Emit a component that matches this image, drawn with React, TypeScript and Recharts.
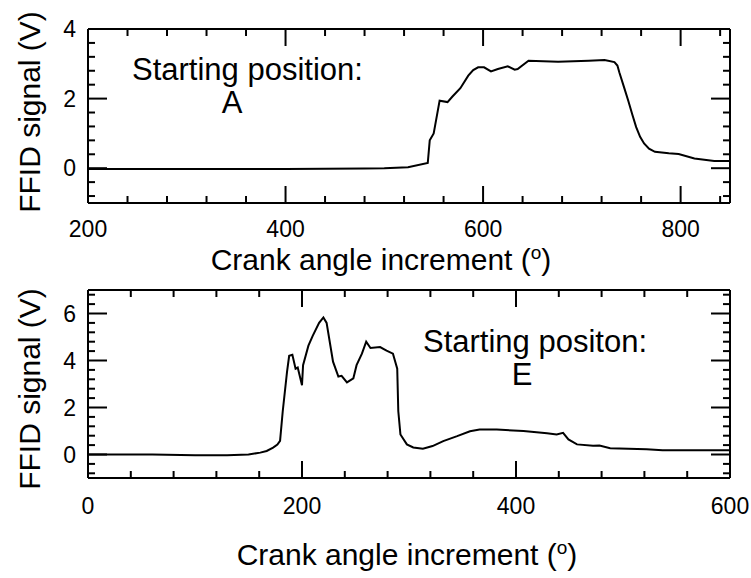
import React from "react";
import { LineChart, Line, XAxis, YAxis } from "recharts";

// ---- Top panel (starting position A) ----
const topAngle = [200, 300, 400, 480, 500, 524, 544, 546, 550, 556, 564, 569, 577, 585, 590, 595, 601, 608, 615, 625, 632, 635, 646, 676, 707, 723, 733, 736, 738, 743, 747, 751, 755, 759, 763, 768, 774, 788, 798, 814, 834, 850];
const topSignal = [-0.02, -0.02, -0.02, -0.01, 0.0, 0.03, 0.15, 0.8, 1.0, 1.94, 1.9, 2.06, 2.3, 2.66, 2.82, 2.9, 2.9, 2.78, 2.85, 2.93, 2.83, 2.85, 3.09, 3.06, 3.09, 3.11, 3.05, 2.95, 2.75, 2.3, 1.94, 1.55, 1.18, 0.9, 0.71, 0.56, 0.47, 0.43, 0.41, 0.28, 0.21, 0.21];

// ---- Bottom panel (starting position E) ----
const botAngle = [0, 60, 100, 130, 150, 161, 167, 173, 177, 179.5, 182, 186, 188, 191, 194, 196, 200, 201, 206, 210, 216, 220, 223, 229, 234, 237, 242, 248, 251, 256, 260, 264, 273, 279, 285, 289, 290, 292, 298, 304, 313, 322, 332, 345, 357, 366, 382, 407, 429, 438, 444, 449, 457, 472, 478, 488, 522, 537, 593, 600];
const botSignal = [0.0, 0.0, -0.03, -0.03, 0.0, 0.08, 0.15, 0.29, 0.42, 0.58, 1.84, 3.52, 4.2, 4.24, 3.65, 3.7, 2.95, 3.8, 4.63, 5.05, 5.6, 5.83, 5.6, 3.95, 3.32, 3.35, 3.07, 3.24, 3.8, 4.29, 4.8, 4.53, 4.57, 4.42, 4.29, 3.65, 1.84, 0.85, 0.43, 0.3, 0.25, 0.36, 0.57, 0.78, 0.99, 1.06, 1.06, 1.0, 0.9, 0.85, 0.92, 0.64, 0.43, 0.37, 0.38, 0.27, 0.22, 0.18, 0.18, 0.18];

// ---- Ticks ----
const topXTicks = [200, 240, 280, 320, 360, 400, 440, 480, 520, 560, 600, 640, 680, 720, 760, 800, 840];
const topYTicks = [-0.8, -0.4, 0, 0.4, 0.8, 1.2, 1.6, 2, 2.4, 2.8, 3.2, 3.6, 4];
const botXTicks = [0, 40, 80, 120, 160, 200, 240, 280, 320, 360, 400, 440, 480, 520, 560, 600];
const botYTicks = [-0.8, -0.4, 0, 0.4, 0.8, 1.2, 1.6, 2, 2.4, 2.8, 3.2, 3.6, 4, 4.4, 4.8, 5.2, 5.6, 6, 6.4, 6.8];

const FONT = "'Liberation Sans', Arial, Helvetica, sans-serif";

const isMajor = (v: number, step: number) => {
  const r = Math.abs(v / step - Math.round(v / step));
  return r < 1e-6;
};

const makeTick = (side: "bottom" | "top" | "left" | "right", step: number, labels: boolean, labelGap = 34) =>
  (props: any) => {
    const { x, y, payload } = props;
    const v = payload.value;
    const major = isMajor(v, step);
    const len = major ? (side === "left" || side === "right" ? 19 : 17) : 7;
    let x2 = x, y2 = y;
    if (side === "bottom") y2 = y - len;
    if (side === "top") y2 = y + len;
    if (side === "left") x2 = x + len;
    if (side === "right") x2 = x - len;
    return (
      <g>
        <line x1={x} y1={y} x2={x2} y2={y2} stroke="#000" strokeWidth={2} />
        {labels && major && side === "bottom" && (
          <text x={x} y={y + labelGap} textAnchor="middle" fontSize={23} fontFamily={FONT} fill="#000">
            {v}
          </text>
        )}
        {labels && major && side === "left" && (
          <text x={x - 12} y={y} dy="0.36em" textAnchor="end" fontSize={23} fontFamily={FONT} fill="#000">
            {v}
          </text>
        )}
      </g>
    );
  };

const axisLine = { stroke: "#000", strokeWidth: 2 };

const Degree = () => (
  <>
    <tspan>(</tspan>
    <tspan fontSize={19} dy={-11}>o</tspan>
    <tspan dy={11}>)</tspan>
  </>
);

const topData = topAngle.map((a, i) => ({ a, s: topSignal[i] }));
const botData = botAngle.map((a, i) => ({ a, s: botSignal[i] }));

export default function App() {
  return (
    <div style={{ position: "absolute", left: 0, top: 0, width: 751, height: 578, background: "#fff" }}>
      <div style={{ position: "absolute", left: 0, top: 0 }}>
        <LineChart width={751} height={280} data={topData} margin={{ top: 28, left: 87, right: 20, bottom: 76 }}>
          <XAxis dataKey="a" type="number" domain={[200, 850]} allowDataOverflow ticks={topXTicks} interval={0}
            height={1} tickSize={0} tickMargin={0} tickLine={false} axisLine={axisLine}
            tick={makeTick("bottom", 200, true, 34)} />
          <XAxis xAxisId="t" orientation="top" dataKey="a" type="number" domain={[200, 850]} allowDataOverflow ticks={topXTicks} interval={0}
            height={1} tickSize={0} tickMargin={0} tickLine={false} axisLine={axisLine}
            tick={makeTick("top", 200, false)} />
          <YAxis type="number" domain={[-1, 4]} allowDataOverflow ticks={topYTicks} interval={0}
            width={1} tickSize={0} tickMargin={0} tickLine={false} axisLine={axisLine}
            tick={makeTick("left", 2, true)} />
          <YAxis yAxisId="r" orientation="right" type="number" domain={[-1, 4]} allowDataOverflow ticks={topYTicks} interval={0}
            width={1} tickSize={0} tickMargin={0} tickLine={false} axisLine={axisLine}
            tick={makeTick("right", 2, false)} />
          <Line dataKey="s" type="linear" stroke="#000" strokeWidth={2} dot={false} isAnimationActive={false} />
          <text x={132} y={80} fontSize={31} fontFamily={FONT} fill="#000">Starting position:</text>
          <text x={232} y={113} textAnchor="middle" fontSize={31} fontFamily={FONT} fill="#000">A</text>
          <text x={381} y={270} textAnchor="middle" fontSize={30} fontFamily={FONT} fill="#000">
            Crank angle increment <Degree />
          </text>
          <text x={40} y={112} textAnchor="middle" fontSize={30} fontFamily={FONT} fill="#000" transform="rotate(-90 40 112)">
            FFID signal (V)
          </text>
        </LineChart>
      </div>
      <div style={{ position: "absolute", left: 0, top: 280 }}>
        <LineChart width={751} height={298} data={botData} margin={{ top: 9, left: 87, right: 20, bottom: 99 }}>
          <XAxis dataKey="a" type="number" domain={[0, 600]} allowDataOverflow ticks={botXTicks} interval={0}
            height={1} tickSize={0} tickMargin={0} tickLine={false} axisLine={axisLine}
            tick={makeTick("bottom", 200, true, 36)} />
          <XAxis xAxisId="t" orientation="top" dataKey="a" type="number" domain={[0, 600]} allowDataOverflow ticks={botXTicks} interval={0}
            height={1} tickSize={0} tickMargin={0} tickLine={false} axisLine={axisLine}
            tick={makeTick("top", 200, false)} />
          <YAxis type="number" domain={[-1, 7]} allowDataOverflow ticks={botYTicks} interval={0}
            width={1} tickSize={0} tickMargin={0} tickLine={false} axisLine={axisLine}
            tick={makeTick("left", 2, true)} />
          <YAxis yAxisId="r" orientation="right" type="number" domain={[-1, 7]} allowDataOverflow ticks={botYTicks} interval={0}
            width={1} tickSize={0} tickMargin={0} tickLine={false} axisLine={axisLine}
            tick={makeTick("right", 2, false)} />
          <Line dataKey="s" type="linear" stroke="#000" strokeWidth={2} dot={false} isAnimationActive={false} />
          <text x={423} y={72} fontSize={31} fontFamily={FONT} fill="#000">Starting positon:</text>
          <text x={522} y={105} textAnchor="middle" fontSize={31} fontFamily={FONT} fill="#000">E</text>
          <text x={407} y={285} textAnchor="middle" fontSize={30} fontFamily={FONT} fill="#000">
            Crank angle increment <Degree />
          </text>
          <text x={40} y={109} textAnchor="middle" fontSize={30} fontFamily={FONT} fill="#000" transform="rotate(-90 40 109)">
            FFID signal (V)
          </text>
        </LineChart>
      </div>
    </div>
  );
}
